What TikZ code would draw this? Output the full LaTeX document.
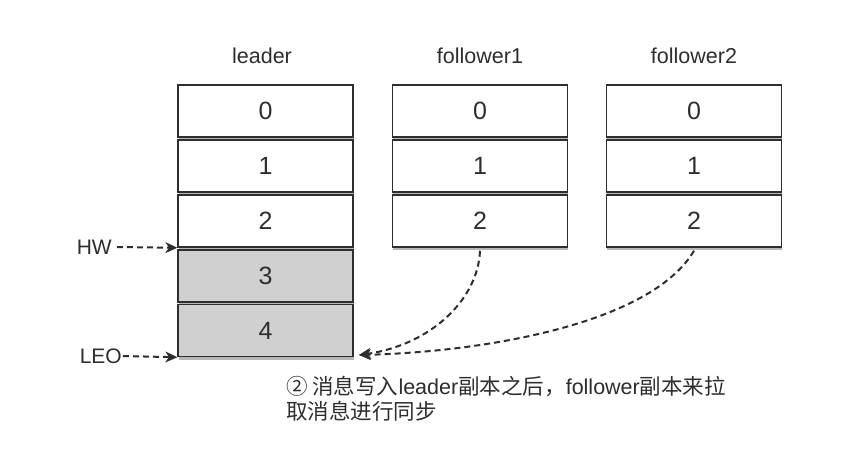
\documentclass[tikz,border=0pt]{standalone}
\usepackage{fontspec}
\setmainfont{Liberation Sans}
\newfontfamily\cjk{Noto Sans CJK SC}
\usetikzlibrary{arrows.meta,shadows}
\definecolor{ink}{HTML}{2E2E2E}
\definecolor{cellgray}{HTML}{D0D0D0}
\tikzset{
  cell/.style={draw=ink, line width=1.5pt, minimum width=175pt, minimum height=52pt,
    inner sep=0pt, text=ink, font=\fontsize{25}{28}\selectfont,
    drop shadow={shadow xshift=0.5pt, shadow yshift=-3pt, opacity=0.4, fill=black!70}},
  whitecell/.style={cell, fill=white},
  graycell/.style={cell, fill=cellgray},
  title/.style={text=ink, font=\fontsize{21.5}{24}\selectfont},
  side/.style={text=ink, font=\fontsize{21}{24}\selectfont, inner sep=0pt},
  dasharrow/.style={draw=ink, line width=2pt, dash pattern=on 6pt off 4pt,
    -{Stealth[length=12pt,width=11pt,line width=0.5pt]}},
}
\begin{document}
\begin{tikzpicture}[x=1pt,y=-1pt]
\useasboundingbox[fill=white] (0,0) rectangle (848,448);
% leader
\node[title] (tl) at (262,56) {leader};
\node[whitecell] (l0) at (265.5,111) {0};
\node[whitecell] (l1) at (265.5,166) {1};
\node[whitecell] (l2) at (265.5,221) {2};
\node[graycell] (l3) at (265.5,276) {3};
\node[graycell] (l4) at (265.5,330.5) {4};
% follower1
\node[title] (tf1) at (480,56) {follower1};
\node[whitecell] (a0) at (480,111) {0};
\node[whitecell] (a1) at (480,166) {1};
\node[whitecell] (a2) at (480,221) {2};
% follower2
\node[title] (tf2) at (694,56) {follower2};
\node[whitecell] (b0) at (694,111) {0};
\node[whitecell] (b1) at (694,166) {1};
\node[whitecell] (b2) at (694,221) {2};
% HW / LEO
\node[side, anchor=east] (hw) at (112,247) {HW};
\node[side, anchor=east] (leo) at (122,356) {LEO};
\draw[dasharrow] ([xshift=5pt]hw.east) -- (l2.south west);
\draw[dasharrow] ([xshift=1pt]leo.east) -- (l4.south west);
% sync curves
\coordinate (tip) at (359,355);
\draw[dasharrow] ([yshift=-3pt]a2.south) .. controls (478,300) and (430,345) .. (tip);
\draw[dasharrow] ([yshift=-3pt]b2.south) .. controls (650,325) and (480,352) .. (tip);
% caption
\node[anchor=north west, inner sep=0pt, text=ink, align=left,
  font=\fontsize{21.5}{25}\selectfont] (cap) at (286,376)
  {{\cjk ② 消息写入}leader{\cjk 副本之后，}follower{\cjk 副本来拉}\\{\cjk 取消息进行同步}};
\end{tikzpicture}
\end{document}
